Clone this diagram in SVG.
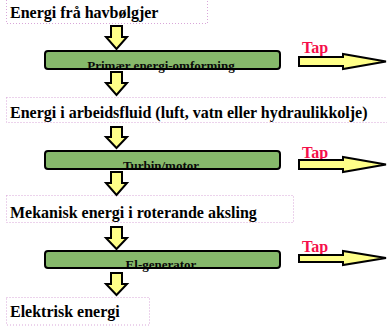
<svg xmlns="http://www.w3.org/2000/svg" width="387" height="326" viewBox="0 0 387 326">
<style>
text{font-family:"Liberation Serif",Tinos,"Times New Roman",Times,serif;font-weight:bold}
.lbl{font-size:16px;fill:#000}
.tap{font-size:16px;fill:#F5104A}
.btxt{font-size:13px;fill:#0a0a0a;text-anchor:middle}
.dot{fill:none;stroke:#D9A6D9;stroke-width:1;stroke-dasharray:1 2}
.box{fill:#86B96B;stroke:none}
.boxs{fill:none;stroke:#000;stroke-width:2}
.arr{fill:#FFFF88;stroke:#000;stroke-width:2;stroke-linejoin:miter}
</style>
<g id="n1"><rect class="dot" x="6.5" y="-5" width="201" height="28.5"/><text class="lbl" x="10" y="18" font-family="Liberation Serif, serif">Energi frå havbølgjer</text></g>
<g id="n2"><rect class="dot" x="6.5" y="97.5" width="382" height="25"/><text class="lbl" x="10" y="118" font-family="Liberation Serif, serif">Energi i arbeidsfluid (luft, vatn eller hydraulikkolje)</text></g>
<g id="n3"><rect class="dot" x="6.5" y="195.5" width="287" height="27"/><text class="lbl" x="10" y="218" font-family="Liberation Serif, serif">Mekanisk energi i roterande aksling</text></g>
<g id="n4"><rect class="dot" x="6.5" y="297.5" width="143" height="27.5"/><text class="lbl" x="10" y="317" font-family="Liberation Serif, serif">Elektrisk energi</text></g>
<g id="p1"><rect class="box" x="45" y="51" width="235" height="18" rx="3"/><text class="btxt" x="161" y="70" font-family="Liberation Serif, serif">Primær energi-omforming</text><rect class="boxs" x="45" y="51" width="235" height="18" rx="3"/></g>
<g id="p2"><rect class="box" x="45" y="151" width="235" height="18" rx="3"/><text class="btxt" x="161" y="170" font-family="Liberation Serif, serif">Turbin/motor</text><rect class="boxs" x="45" y="151" width="235" height="18" rx="3"/></g>
<g id="p3"><rect class="box" x="45" y="251" width="235" height="17" rx="3"/><text class="btxt" x="161" y="269" font-family="Liberation Serif, serif">El-generator</text><rect class="boxs" x="45" y="251" width="235" height="17" rx="3"/></g>
<g id="t1"><text class="tap" x="302" y="53" font-family="Liberation Serif, serif">Tap</text></g>
<g id="t2"><text class="tap" x="302" y="158" font-family="Liberation Serif, serif">Tap</text></g>
<g id="t3"><text class="tap" x="302" y="252" font-family="Liberation Serif, serif">Tap</text></g>
<g id="connectors">
<path class="arr" d="M111 26H122V37H127L116.5 49L106 37H111Z"/>
<path class="arr" d="M111 72H122V83H127L116.5 95L106 83H111Z"/>
<path class="arr" d="M111 127H122V137H127L116.5 148L106 137H111Z"/>
<path class="arr" d="M111 172H122V183H127L116.5 195L106 183H111Z"/>
<path class="arr" d="M111 227H122V238H127L116.5 249L106 238H111Z"/>
<path class="arr" d="M111 273H122V284H127L116.5 295L106 284H111Z"/>
<path class="arr" d="M299 57H343V54L386 61.5L343 69V66H299Z"/>
<path class="arr" d="M299 160H343V157L386 164.5L343 172V169H299Z"/>
<path class="arr" d="M299 255H343V251L386 258L343 265V262H299Z"/>
</g>
</svg>
